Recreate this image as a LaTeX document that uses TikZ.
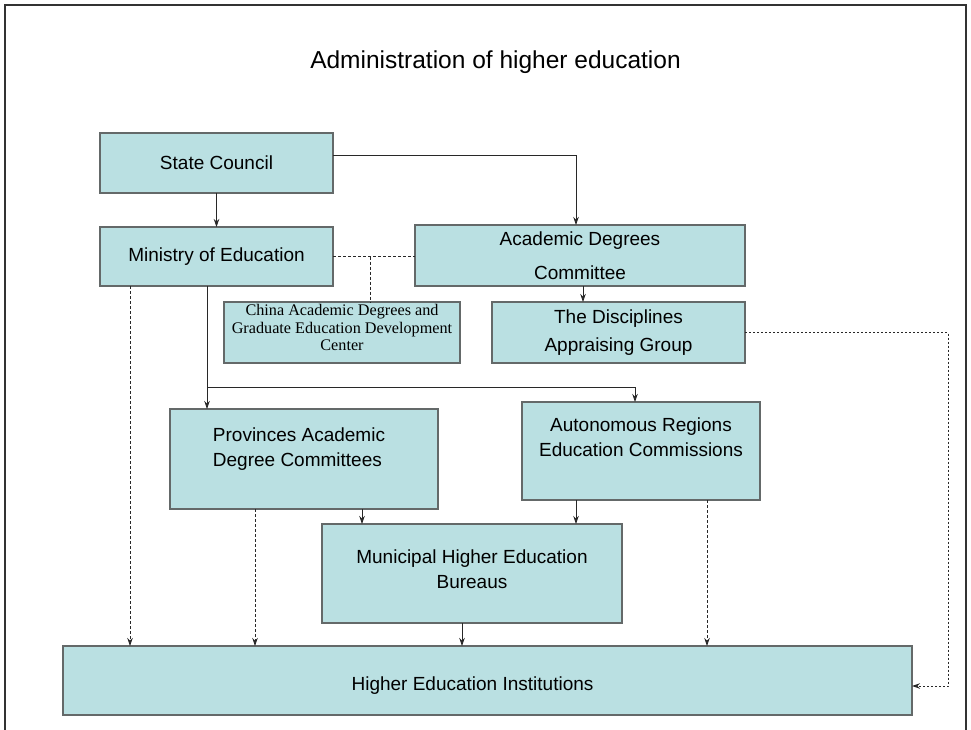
\documentclass[tikz,border=0pt]{standalone}
\usepackage{fontspec}
\setmainfont{Liberation Sans}
\newfontfamily\timesfont{Liberation Serif}
\usetikzlibrary{arrows.meta,positioning}
\definecolor{boxfill}{RGB}{186,224,226}
\definecolor{boxline}{RGB}{100,105,105}
\definecolor{wire}{RGB}{40,40,40}
\tikzset{
  >={Stealth[length=8pt,width=5.5pt]},
  unit/.style={draw=boxline, fill=boxfill, line width=1.3pt, inner sep=0pt,
    outer sep=0pt, font=\fontsize{19}{25}\selectfont, align=center},
  tag/.style={font=\fontsize{19}{25}\selectfont, inner sep=0pt},
  link/.style={->, draw=wire, line width=0.8pt},
  dashlink/.style={link, dash pattern=on 3pt off 2pt}
}

\begin{document}
\begin{tikzpicture}[x=1pt,y=-1pt]
  \useasboundingbox (0,0) rectangle (971,730);
  \draw[line width=2pt, draw=black!80] (5,730) -- (5,5) -- (966,5) -- (966,730);

  \node[font=\fontsize{24.5}{28}\selectfont] (title) at (495.5,62) {Administration of higher education};

  % top level
  \node[unit, minimum width=233, minimum height=60] (sc) at (216.5,163) {State Council};
  \node[unit, minimum width=233, minimum height=59] (moe) at (216.5,256.5) {Ministry of Education};
  \node[unit, minimum width=330, minimum height=61] (adc) at (580,255.5) {Academic Degrees\\[9pt]Committee};
  \node[unit, minimum width=236, minimum height=61,
    label={[tag, font=\timesfont\fontsize{16.2}{17.5}\selectfont, align=center, yshift=5]center:{China Academic Degrees and\\Graduate Education Development\\Center}}]
    (cadc) at (342,332.5) {};
  \node[unit, minimum width=253, minimum height=61] (dag) at (618.5,332.5) {The Disciplines\\[3pt]Appraising Group};

  % regional level
  \node[unit, minimum width=268, minimum height=100,
    label={[tag, align=left, yshift=9.5, xshift=-5]center:{Provinces Academic\\Degree Committees}}]
    (prov) at (304,459) {};
  \node[unit, minimum width=238, minimum height=98,
    label={[tag, align=center, yshift=14]center:{Autonomous Regions\\Education Commissions}}]
    (arc) at (641,451) {};
  \node[unit, minimum width=300, minimum height=99,
    label={[tag, align=center, yshift=4.5]center:{Municipal Higher Education\\Bureaus}}]
    (mhe) at (472,573.5) {};
  \node[unit, minimum width=849, minimum height=69,
    label={[tag, yshift=-5.5, xshift=-15]center:Higher Education Institutions}]
    (hei) at (487.5,680.5) {};

  \coordinate (fork) at (207,387);

  % solid lines
  \draw[link] (sc) -- (moe);
  \draw[link] ([yshift=8]sc.east) -| ([xshift=-4]adc.north);
  \draw[link] ([xshift=3]adc.south) -- ([xshift=3]adc.south |- dag.north);
  \draw[link] ([xshift=-9.5]moe.south) -- ([xshift=-9.5]moe.south |- prov.north);
  \draw[link] (fork) -| ([xshift=-6]arc.north);
  \draw[link] ([xshift=58]prov.south) -- ([xshift=58]prov.south |- mhe.north);
  \draw[link] ([xshift=-65]arc.south) -- ([xshift=-65]arc.south |- mhe.north);
  \draw[link] ([xshift=-10]mhe.south) -- ([xshift=-10]mhe.south |- hei.north);

  % dashed lines
  \draw[dashlink, -] (moe.east) -- (moe.east -| adc.west);
  \draw[dashlink, -] ([xshift=28]cadc.north |- moe.east) -- ([xshift=28]cadc.north);
  \draw[dashlink] ([xshift=-86.5]moe.south) -- ([xshift=-86.5]moe.south |- hei.north);
  \draw[dashlink] ([xshift=-49]prov.south) -- ([xshift=-49]prov.south |- hei.north);
  \draw[dashlink] ([xshift=66]arc.south) -- ([xshift=66]arc.south |- hei.north);
  \draw[dashlink, dash pattern=on 2pt off 2pt, line width=1pt] (dag.east) -- ++(203,0) |- ([yshift=-5.5]hei.east);
\end{tikzpicture}
\end{document}
